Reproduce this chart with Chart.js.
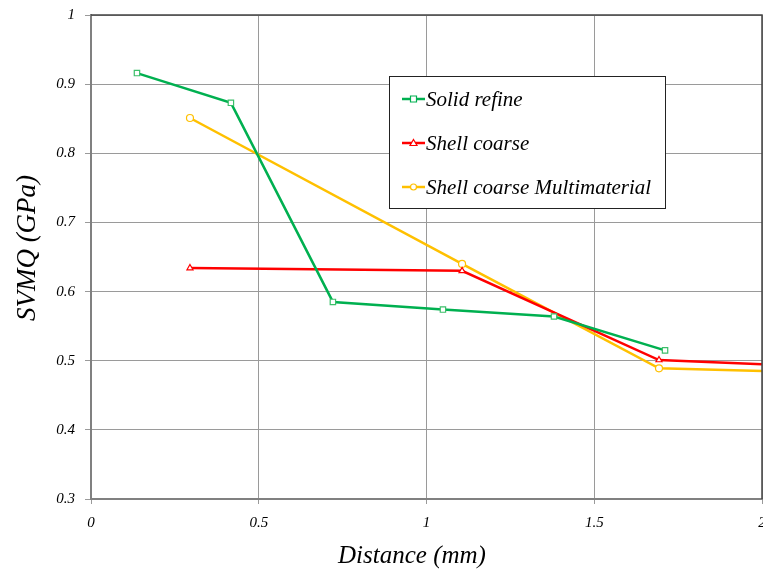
<!DOCTYPE html>
<html>
<head>
<meta charset="utf-8">
<script src="https://cdn.jsdelivr.net/npm/chart.js@4.4.1/dist/chart.umd.min.js"></script>
<style>
  html, body { margin: 0; padding: 0; background: #fff; }
  #wrap { width: 763px; height: 575px; }
</style>
</head>
<body>
<div id="wrap"><canvas id="svmqChart" width="763" height="575"></canvas></div>
<script>
// values
const solidRefineX = [0.137, 0.417, 0.721, 1.049, 1.380, 1.711];
const solidRefineY = [0.916, 0.873, 0.585, 0.574, 0.564, 0.515];

const shellCoarseX = [0.295, 1.106, 1.693, 2.3];
const shellCoarseY = [0.634, 0.630, 0.501, 0.489];

const multiMatX = [0.295, 1.106, 1.693, 2.3];
const multiMatY = [0.851, 0.640, 0.489, 0.481];

const xTicks = [0, 0.5, 1, 1.5, 2];
const yTicks = [0.3, 0.4, 0.5, 0.6, 0.7, 0.8, 0.9, 1];

const xTitle = 'Distance (mm)';
const yTitle = 'SVMQ (GPa)';

const toPoints = (xs, ys) => xs.map((x, i) => ({ x: x, y: ys[i] }));

const serif = '"Liberation Serif", "Times New Roman", serif';

// axis titles are placed a bit off-centre in the original, so draw them here
const axisTitles = {
  id: 'axisTitles',
  afterDraw(chart) {
    const c = chart.ctx;
    const area = chart.chartArea;
    c.save();
    c.fillStyle = '#000';
    c.textAlign = 'center';
    c.textBaseline = 'middle';
    c.font = 'italic 25px ' + serif;
    c.fillText(xTitle, area.left + 321, area.bottom + 57);
    c.translate(area.left - 63, area.top + 233);
    c.rotate(-Math.PI / 2);
    c.font = 'italic 27px ' + serif;
    c.fillText(yTitle, 0, 0);
    c.restore();
  }
};

// draws the boxed legend inside the plot, like the original
const boxLegend = {
  id: 'boxLegend',
  afterDatasetsDraw(chart) {
    const c = chart.ctx;
    const area = chart.chartArea;
    // dark frame on top and right of the plot
    c.save();
    c.strokeStyle = '#444';
    c.lineWidth = 1.5;
    c.beginPath();
    c.moveTo(area.left, area.top);
    c.lineTo(area.right, area.top);
    c.lineTo(area.right, area.bottom);
    c.stroke();

    const x0 = area.left + 298, y0 = area.top + 61;
    const w = 276, h = 132;
    c.fillStyle = '#fff';
    c.fillRect(x0, y0, w, h);
    c.strokeStyle = '#222';
    c.lineWidth = 1;
    c.strokeRect(x0 + 0.5, y0 + 0.5, w, h);
    chart.data.datasets.forEach((ds, i) => {
      const yy = y0 + 23 + i * 44;
      c.strokeStyle = ds.borderColor;
      c.lineWidth = 2.5;
      c.beginPath();
      c.moveTo(x0 + 13, yy);
      c.lineTo(x0 + 36, yy);
      c.stroke();
      c.lineWidth = 1.2;
      c.fillStyle = '#fff';
      const mx = x0 + 24.5;
      c.beginPath();
      if (ds.pointStyle === 'rect') {
        c.rect(mx - 3, yy - 3, 6, 6);
      } else if (ds.pointStyle === 'triangle') {
        c.moveTo(mx, yy - 3.5);
        c.lineTo(mx + 3.5, yy + 2.5);
        c.lineTo(mx - 3.5, yy + 2.5);
        c.closePath();
      } else {
        c.arc(mx, yy, 3, 0, Math.PI * 2);
      }
      c.fill();
      c.stroke();
      c.fillStyle = '#000';
      c.font = 'italic 21px ' + serif;
      c.textBaseline = 'middle';
      c.fillText(ds.label, x0 + 37, yy + 1);
    });
    c.restore();
  }
};

const ctx = document.getElementById('svmqChart').getContext('2d');

const svmqChart = new Chart(ctx, {
  type: 'scatter',
  data: {
    datasets: [{
      label: 'Solid refine',
      data: toPoints(solidRefineX, solidRefineY),
      showLine: true,
      borderColor: '#00b050',
      backgroundColor: '#fff',
      borderWidth: 2.5,
      pointStyle: 'rect',
      pointRadius: 3.8,
      pointBorderWidth: 1.2,
      pointBorderColor: '#3cbf6a',
    },
    {
      label: 'Shell coarse',
      data: toPoints(shellCoarseX, shellCoarseY),
      showLine: true,
      borderColor: '#ff0000',
      backgroundColor: '#fff',
      borderWidth: 2.5,
      pointStyle: 'triangle',
      pointRadius: 3.5,
      pointBorderWidth: 1.2,
    },
    {
      label: 'Shell coarse Multimaterial',
      data: toPoints(multiMatX, multiMatY),
      showLine: true,
      borderColor: '#ffc000',
      backgroundColor: '#fff',
      borderWidth: 2.5,
      pointStyle: 'circle',
      pointRadius: 3.5,
      pointBorderWidth: 1.2,
    }]
  },
  options: {
    responsive: false,
    animation: false,
    layout: { autoPadding: false, padding: { top: 15, right: 1, left: 0, bottom: 0 } },
    scales: {
      x: {
        type: 'linear',
        min: 0,
        max: 2,
        afterBuildTicks: (scale) => { scale.ticks = xTicks.map(v => ({ value: v })); },
        afterFit: (scale) => { scale.height = 76; scale.paddingLeft = 0; scale.paddingRight = 0; },
        grid: { color: '#9a9a9a', lineWidth: 1, tickLength: 5, drawTicks: true },
        border: { color: '#808080', width: 2 },
        ticks: {
          color: '#000',
          padding: 10,
          maxRotation: 0,
          callback: (v) => String(v),
          font: { family: serif, style: 'italic', size: 15 },
        },
      },
      y: {
        min: 0.3,
        max: 1,
        afterBuildTicks: (scale) => { scale.ticks = yTicks.map(v => ({ value: v })); },
        afterFit: (scale) => { scale.width = 91; scale.paddingTop = 0; scale.paddingBottom = 0; },
        grid: { color: '#9a9a9a', lineWidth: 1, tickLength: 6 },
        border: { color: '#808080', width: 2 },
        ticks: {
          color: '#000',
          padding: 10,
          callback: (v) => String(v),
          font: { family: serif, style: 'italic', size: 15 },
        },
      },
    },
    plugins: {
      legend: { display: false },
      tooltip: { enabled: false },
    }
  },
  plugins: [boxLegend, axisTitles]
});
</script>
</body>
</html>
